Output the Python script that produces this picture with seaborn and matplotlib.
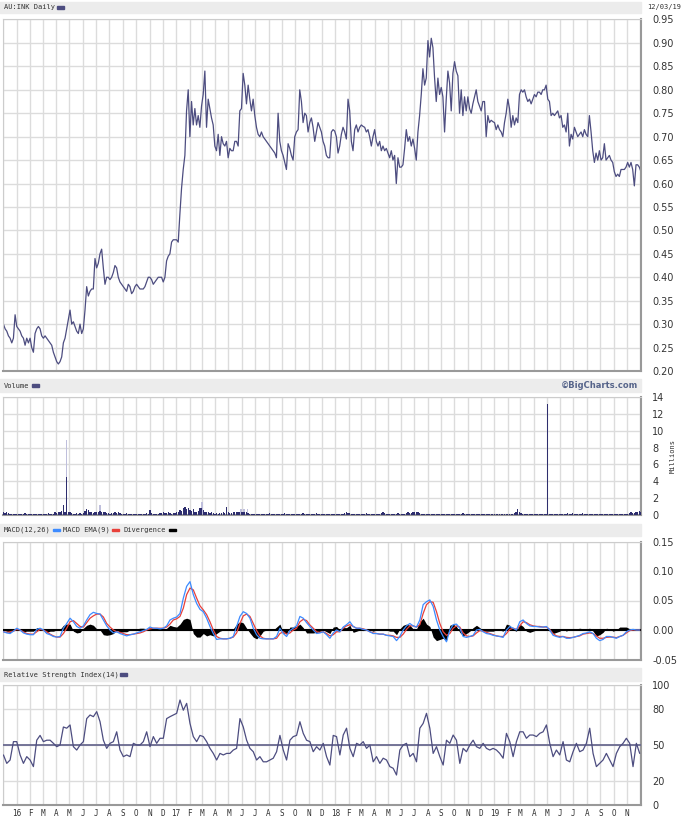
import seaborn as sns
import matplotlib.pyplot as plt
import matplotlib.dates as mdates
from matplotlib.patches import Rectangle
import pandas as pd

# daily close (AU:INK), Dec 2015 -> Dec 2019
price_a = [0.30, 0.29, 0.285, 0.275, 0.27, 0.26, 0.27, 0.32, 0.295, 0.29,
           0.285, 0.275, 0.27, 0.255, 0.27, 0.26, 0.27, 0.25, 0.24, 0.28,
           0.29, 0.295, 0.29, 0.275, 0.27, 0.275, 0.27, 0.265, 0.26, 0.255,
           0.24, 0.23, 0.22, 0.215, 0.22, 0.23, 0.26, 0.27, 0.29, 0.31,
           0.33, 0.30, 0.305, 0.295, 0.285, 0.28, 0.30, 0.28, 0.29, 0.33,
           0.38, 0.36, 0.37, 0.375, 0.375, 0.44, 0.42, 0.43, 0.45, 0.46,
           0.42, 0.385, 0.40, 0.40, 0.395, 0.40, 0.41, 0.425, 0.42, 0.40,
           0.39, 0.385, 0.38, 0.375, 0.37, 0.385, 0.38, 0.365, 0.37, 0.38,
           0.385, 0.38, 0.375, 0.375, 0.375, 0.38, 0.39, 0.40, 0.40, 0.395,
           0.385, 0.39, 0.395, 0.40, 0.40, 0.40, 0.39]
price_b = [0.40, 0.435, 0.445, 0.45, 0.475, 0.48, 0.48, 0.48, 0.475, 0.535,
           0.59, 0.63, 0.66, 0.755, 0.80, 0.70, 0.775, 0.725, 0.76, 0.725,
           0.745, 0.72, 0.765, 0.79, 0.84, 0.72, 0.78, 0.76, 0.74, 0.725,
           0.68, 0.67, 0.705, 0.66, 0.70, 0.685, 0.68, 0.69, 0.655, 0.675,
           0.67, 0.67, 0.69, 0.69, 0.68, 0.755, 0.76, 0.835, 0.81, 0.77,
           0.81, 0.78, 0.755, 0.78, 0.745, 0.72, 0.705, 0.70, 0.71, 0.70,
           0.695, 0.69, 0.685, 0.68, 0.675, 0.67, 0.665, 0.655, 0.75, 0.69,
           0.67, 0.66, 0.645, 0.63, 0.685, 0.675, 0.66, 0.65, 0.70, 0.71,
           0.715, 0.80, 0.775, 0.73, 0.75, 0.745, 0.71, 0.73, 0.74, 0.72,
           0.69, 0.71, 0.73, 0.72, 0.71, 0.69]
price_c = [0.68, 0.66, 0.655, 0.655, 0.71, 0.715, 0.712, 0.70, 0.665, 0.68,
           0.705, 0.72, 0.71, 0.695, 0.78, 0.755, 0.69, 0.67, 0.715, 0.725,
           0.71, 0.72, 0.725, 0.722, 0.72, 0.71, 0.715, 0.70, 0.68, 0.70,
           0.715, 0.69, 0.68, 0.69, 0.67, 0.68, 0.67, 0.675, 0.665, 0.655,
           0.67, 0.65, 0.66, 0.60, 0.655, 0.635, 0.635, 0.64, 0.675, 0.715,
           0.69, 0.70, 0.68, 0.695, 0.675, 0.65, 0.71, 0.745, 0.79, 0.845,
           0.81, 0.825, 0.905, 0.87, 0.91, 0.89, 0.825, 0.775, 0.825, 0.79,
           0.805, 0.785, 0.71, 0.78, 0.84, 0.815, 0.755, 0.835, 0.86, 0.84,
           0.83, 0.75, 0.80, 0.745, 0.785, 0.755, 0.785, 0.76, 0.75, 0.77,
           0.785, 0.80, 0.775, 0.765, 0.755, 0.775]
price_d = [0.775, 0.70, 0.745, 0.73, 0.735, 0.732, 0.73, 0.715, 0.725, 0.715,
           0.71, 0.70, 0.73, 0.75, 0.78, 0.76, 0.72, 0.745, 0.725, 0.74,
           0.73, 0.79, 0.80, 0.795, 0.80, 0.785, 0.775, 0.78, 0.77, 0.78,
           0.79, 0.785, 0.795, 0.795, 0.79, 0.80, 0.80, 0.81, 0.78, 0.775,
           0.745, 0.75, 0.745, 0.75, 0.755, 0.74, 0.745, 0.72, 0.725, 0.71,
           0.75, 0.68, 0.705, 0.695, 0.72, 0.71, 0.70, 0.705, 0.71, 0.70,
           0.715, 0.705, 0.70, 0.745, 0.71, 0.67, 0.645, 0.665, 0.65, 0.67,
           0.65, 0.655, 0.685, 0.65, 0.655, 0.66, 0.65, 0.645, 0.625, 0.615,
           0.62, 0.615, 0.63, 0.63, 0.63, 0.635, 0.645, 0.635, 0.645, 0.63,
           0.595, 0.64, 0.64, 0.635, 0.625]

# volume in millions, same dates as the price
volume = [0.3, 0.2, 0.3, 0.2, 0.1, 0.1, 0.1, 0.1, 0.1, 0.1, 0.1, 0.1, 0.1, 0.2, 0.1, 0.1,
          0.1, 0.1, 0.1, 0.1, 0.1, 0.1, 0.1, 0.1, 0.1, 0.1, 0.1, 0.2, 0.1, 0.1, 0.1, 0.3,
          0.2, 0.4, 0.3, 0.5, 1.2, 0.3, 4.5, 0.4, 0.3, 0.2, 0.1, 0.1, 0.2, 0.1, 0.2, 0.1,
          0.2, 0.5, 0.7, 0.6, 0.4, 0.3, 0.2, 0.3, 0.4, 0.3, 0.5, 0.3, 0.4, 0.3, 0.2, 0.2,
          0.1, 0.2, 0.2, 0.3, 0.2, 0.3, 0.2, 0.1, 0.1, 0.1, 0.2, 0.1, 0.1, 0.1, 0.1, 0.1,
          0.1, 0.1, 0.1, 0.1, 0.1, 0.1, 0.2, 0.1, 0.6, 0.2, 0.1, 0.1, 0.1, 0.1, 0.2, 0.2,
          0.3, 0.2, 0.2, 0.3, 0.2, 0.1, 0.2, 0.2, 0.3, 0.4, 0.6, 0.5, 0.8, 0.9, 0.7, 0.8,
          0.6, 0.5, 0.7, 0.4, 0.3, 0.5, 0.8, 0.8, 0.6, 0.4, 0.3, 0.3, 0.2, 0.3, 0.2, 0.1,
          0.2, 0.1, 0.2, 0.2, 0.3, 0.2, 1.0, 0.3, 0.2, 0.2, 0.3, 0.4, 0.3, 0.3, 0.3, 0.3,
          0.3, 0.3, 0.3, 0.2, 0.1, 0.1, 0.1, 0.1, 0.1, 0.1, 0.1, 0.1, 0.1, 0.1, 0.1, 0.1,
          0.2, 0.1, 0.1, 0.1, 0.1, 0.1, 0.1, 0.1, 0.1, 0.2, 0.1, 0.1, 0.1, 0.1, 0.1, 0.1,
          0.1, 0.1, 0.1, 0.1, 0.2, 0.1, 0.1, 0.1, 0.1, 0.1, 0.1, 0.1, 0.2, 0.1, 0.1, 0.1,
          0.1, 0.1, 0.1, 0.1, 0.1, 0.1, 0.1, 0.1, 0.1, 0.1, 0.1, 0.1, 0.1, 0.2, 0.3, 0.2,
          0.2, 0.1, 0.1, 0.1, 0.1, 0.1, 0.1, 0.1, 0.1, 0.1, 0.2, 0.1, 0.1, 0.1, 0.1, 0.1,
          0.1, 0.1, 0.1, 0.2, 0.3, 0.2, 0.1, 0.1, 0.1, 0.1, 0.1, 0.1, 0.1, 0.2, 0.1, 0.1,
          0.1, 0.1, 0.2, 0.3, 0.2, 0.2, 0.4, 0.3, 0.4, 0.3, 0.2, 0.1, 0.1, 0.1, 0.1, 0.1,
          0.1, 0.1, 0.1, 0.1, 0.1, 0.1, 0.1, 0.1, 0.1, 0.1, 0.1, 0.1, 0.1, 0.1, 0.1, 0.1,
          0.1, 0.1, 0.1, 0.1, 0.2, 0.1, 0.1, 0.1, 0.1, 0.1, 0.1, 0.1, 0.1, 0.1, 0.1, 0.1,
          0.1, 0.1, 0.1, 0.1, 0.1, 0.1, 0.1, 0.1, 0.1, 0.1, 0.1, 0.1, 0.1, 0.1, 0.1, 0.1,
          0.1, 0.1, 0.1, 0.2, 0.3, 0.7, 0.3, 0.2, 0.1, 0.1, 0.1, 0.1, 0.1, 0.1, 0.1, 0.1,
          0.1, 0.1, 0.1, 0.1, 0.1, 0.1, 0.1, 13.2, 0.1, 0.1, 0.1, 0.1, 0.1, 0.1, 0.1, 0.1,
          0.1, 0.1, 0.1, 0.2, 0.1, 0.1, 0.2, 0.1, 0.1, 0.1, 0.1, 0.1, 0.2, 0.1, 0.1, 0.1,
          0.1, 0.1, 0.1, 0.1, 0.1, 0.1, 0.1, 0.1, 0.1, 0.1, 0.1, 0.1, 0.1, 0.1, 0.1, 0.1,
          0.1, 0.1, 0.1, 0.1, 0.1, 0.1, 0.1, 0.1, 0.2, 0.3, 0.2, 0.2, 0.3, 0.4, 0.5, 0.3]
# the paler volume bars
light_dates = ["2016-04-25", "2016-07-10", "2017-03-01", "2017-05-30", "2017-06-06", "2017-06-13"]
light_vol = [8.9, 1.2, 1.5, 0.7, 0.7, 0.7]

# MACD(12,26), EMA(9) and divergence, roughly weekly
macd = [-0.003, -0.005, -0.006, -0.002, 0.003, 0.0, -0.005, -0.007, -0.008, -0.008,
        0.001, 0.003, 0.0, -0.006, -0.008, -0.011, -0.012, -0.011, 0.003, 0.011,
        0.02, 0.014, 0.006, 0.003, 0.007, 0.017, 0.026, 0.03, 0.028, 0.027,
        0.017, 0.007, 0.0, -0.005, -0.003, -0.006, -0.008, -0.01, -0.008, -0.007,
        -0.005, -0.003, -0.001, 0.001, 0.005, 0.003, 0.003, 0.002, 0.003, 0.007,
        0.017, 0.02, 0.022, 0.028, 0.054, 0.074, 0.082, 0.06, 0.045, 0.035,
        0.031, 0.02, 0.006, -0.006, -0.016, -0.015, -0.015, -0.015, -0.014, -0.011,
        0.006, 0.023, 0.031, 0.028, 0.02, 0.003, -0.008, -0.014, -0.015, -0.015,
        -0.015, -0.015, -0.011, 0.003, -0.006, -0.011, -0.001, 0.003, 0.007, 0.023,
        0.02, 0.0125, 0.006, 0.0, -0.006, -0.005, -0.003, -0.008, -0.014, -0.005,
        0.0, -0.003,
        0.005, 0.009, 0.014, 0.006, 0.003, 0.003, 0.001, 0.0, -0.003, -0.006,
        -0.006, -0.007, -0.007, -0.009, -0.01, -0.011, -0.018, -0.011, 0.0, 0.007,
        0.011, 0.007, 0.005, 0.017, 0.043, 0.048, 0.051, 0.04, 0.017, 0.0,
        -0.011, -0.02, 0.0, 0.009, 0.01, 0.003, -0.011, -0.0125, -0.011, -0.009,
        0.0, 0.001, -0.003, -0.006, -0.007, -0.009, -0.01, -0.011, -0.0125, 0.0,
        0.006, 0.003, 0.0, 0.014, 0.017, 0.011, 0.007, 0.006, 0.006, 0.005,
        0.005, 0.006, 0.0, -0.009, -0.011, -0.0125, -0.011, -0.014, -0.014, -0.0125,
        -0.011, -0.009, -0.006, -0.005, -0.003, -0.006, -0.014, -0.018, -0.016, -0.011,
        -0.011, -0.0125, -0.014, -0.011, -0.009, -0.003, 0.0, 0.001, 0.0, 0.0]
signal = [-0.003, -0.004, -0.003, -0.002, 0.001, 0.0, -0.003, -0.006, -0.007, -0.007,
          -0.003, 0.001, 0.0, -0.003, -0.007, -0.01, -0.012, -0.012, -0.006, 0.003,
          0.014, 0.016, 0.011, 0.006, 0.005, 0.0125, 0.02, 0.024, 0.027, 0.027,
          0.022, 0.011, 0.005, 0.0, -0.003, -0.004, -0.006, -0.008, -0.008, -0.007,
          -0.006, -0.005, -0.003, 0.0, 0.002, 0.003, 0.003, 0.003, 0.003, 0.005,
          0.01, 0.017, 0.019, 0.023, 0.037, 0.06, 0.071, 0.068, 0.054, 0.041,
          0.034, 0.026, 0.014, 0.0, -0.011, -0.014, -0.015, -0.015, -0.014, -0.012,
          -0.005, 0.011, 0.024, 0.027, 0.023, 0.011, -0.001, -0.01, -0.014, -0.015,
          -0.015, -0.015, -0.014, -0.006, -0.003, -0.007, -0.005, 0.0, 0.003, 0.014,
          0.018, 0.016, 0.0085, 0.003, -0.003, -0.004, -0.003, -0.006, -0.01, -0.008,
          -0.003, -0.003,
          0.003, 0.007, 0.009, 0.006, 0.003, 0.003, 0.002, 0.0, -0.003, -0.005,
          -0.006, -0.007, -0.007, -0.009, -0.009, -0.01, -0.0125, -0.0125, -0.007, 0.001,
          0.007, 0.007, 0.005, 0.009, 0.028, 0.043, 0.048, 0.047, 0.031, 0.011,
          -0.003, -0.009, -0.006, 0.003, 0.007, 0.005, -0.005, -0.01, -0.011, -0.01,
          -0.005, -0.001, -0.002, -0.004, -0.006, -0.008, -0.01, -0.011, -0.011, -0.006,
          0.001, 0.003, 0.001, 0.007, 0.014, 0.0125, 0.009, 0.007, 0.006, 0.006,
          0.005, 0.005, 0.001, -0.006, -0.01, -0.011, -0.011, -0.0125, -0.013, -0.0125,
          -0.011, -0.01, -0.007, -0.006, -0.005, -0.006, -0.01, -0.014, -0.014, -0.0125,
          -0.012, -0.012, -0.013, -0.011, -0.009, -0.005, -0.001, 0.0, 0.0, 0.0]
divergence = [0.0, -0.002, -0.004, 0.002, 0.003, 0.0, -0.003, -0.002, -0.002, -0.002,
              0.004, 0.003, 0.0, -0.004, -0.002, -0.002, 0.0, 0.001, 0.008, 0.01,
              0.01, -0.002, -0.005, -0.004, 0.003, 0.008, 0.01, 0.008, 0.002, 0.0,
              -0.008, -0.009, -0.008, -0.006, 0.0, -0.004, -0.003, -0.003, 0.0, 0.0,
              0.002, 0.003, 0.003, 0.002, 0.004, 0.0, 0.0, 0.0, 0.0, 0.003,
              0.008, 0.006, 0.005, 0.01, 0.018, 0.02, 0.018, -0.006, -0.012, -0.012,
              -0.006, -0.01, -0.008, -0.01, -0.006, -0.002, 0.0, 0.0, 0.001, 0.002,
              0.01, 0.014, 0.012, 0.003, -0.005, -0.012, -0.015, -0.01, -0.002, 0.0,
              0.0, 0.0, 0.005, 0.01, -0.005, -0.006, 0.005, 0.005, 0.006, 0.01,
              0.004, -0.005, -0.005, -0.005, -0.004, -0.002, 0.0, -0.003, -0.006, 0.005,
              0.006, 0.0,
              0.004, 0.004, 0.008, -0.004, -0.002, 0.0, -0.001, 0.0, 0.0, -0.002,
              0.0, 0.0, 0.0, 0.0, -0.002, -0.002, -0.008, 0.002, 0.008, 0.01,
              0.008, 0.002, 0.002, 0.014, 0.02, 0.01, 0.006, -0.012, -0.018, -0.016,
              -0.014, -0.018, 0.008, 0.01, 0.006, -0.004, -0.01, -0.006, -0.002, 0.004,
              0.008, 0.004, -0.002, -0.002, -0.002, -0.002, 0.0, 0.0, -0.002, 0.01,
              0.008, 0.0, -0.002, 0.01, 0.006, -0.002, -0.004, -0.002, 0.0, 0.0,
              0.0, 0.002, -0.002, -0.006, -0.004, -0.002, 0.002, -0.002, 0.002, 0.002,
              0.002, 0.003, 0.002, 0.002, 0.003, -0.002, -0.01, -0.008, -0.004, 0.003,
              0.002, -0.002, 0.0, 0.005, 0.005, 0.005, 0.002, 0.0, 0.001, 0.0]

# RSI(14), same weekly dates as the MACD
rsi = [41.7, 34.7, 37.5, 52.8, 52.8, 41.7, 34.7, 40.3, 37.5, 32,
       54, 58, 52.8, 54, 54, 51.4, 48.6, 50, 65, 64,
       66.7, 48.6, 45.8, 50, 52.8, 72, 75, 73.6, 77.8, 69.4,
       54, 47.2, 51.4, 52.8, 61, 45.8, 40.3, 41.7, 40.3, 51.4,
       50, 50, 52.8, 61, 48.6, 57, 51.4, 55.6, 55.6, 72,
       73.6, 75, 76.4, 87.5, 79, 84.7, 68, 57, 52.8, 58,
       57, 52.8, 47.2, 43, 37.5, 43, 41.7, 43, 43, 45.8,
       47.2, 72, 65, 54, 47.2, 44.4, 37.5, 40.3, 36, 36,
       37.5, 39, 44.4, 58, 45.8, 37.5, 54, 57, 58, 69.4,
       59.7, 54, 52.8, 44.4, 48.6, 45.8, 51.4, 40.3, 33.3, 58,
       57, 41.7,
       58.3, 64, 47.2, 40.3, 51.4, 50, 52.8, 47.2, 50, 36,
       40.3, 34.7, 39, 37.5, 32, 30.6, 25, 45.8, 50, 51.4,
       40.3, 43, 36, 64, 68, 76.4, 64, 43, 48.6, 40.3,
       33.3, 54, 51.4, 58.3, 54, 34.7, 47.2, 44.4, 50, 54,
       48.6, 47.2, 51.4, 47.2, 45.8, 47.2, 45.8, 43, 39, 59.7,
       52.8, 40.3, 52.8, 61, 61, 55.6, 58.3, 58.3, 57, 59.7,
       61, 66.7, 51.4, 40.3, 45.8, 41.7, 52.8, 37.5, 36, 44.4,
       51.4, 44.4, 45.8, 51.4, 64, 43, 32, 34.7, 37.5, 43,
       37.5, 32, 43, 48.6, 51.4, 55.6, 51.4, 32, 51.4, 43]

price = price_a + price_b + price_c + price_d
dates = pd.date_range("2015-12-02", "2019-12-03", periods=len(price))
wk_dates = pd.date_range("2015-12-02", "2019-11-30", periods=len(macd))
light_dates = pd.to_datetime(light_dates)

sns.set_style("white")
plt.rcParams["font.family"] = ["DejaVu Sans"]

W, H = 681, 819
fig = plt.figure(figsize=(W / 100, H / 100), dpi=100)
start, end = pd.Timestamp("2015-12-01"), pd.Timestamp("2019-12-03")
mono = "DejaVu Sans Mono"
navy = "#4d4d80"
FS = 5


def panel(top, bottom):
    return fig.add_axes([3 / W, 1 - bottom / H, 638 / W, (bottom - top) / H])


def style(ax, ticks, labels, lim):
    ax.set_xlim(start, end)
    ax.set_ylim(lim)
    ax.xaxis.set_major_locator(mdates.MonthLocator())
    ax.set_yticks(ticks)
    ax.set_yticklabels(labels)
    ax.yaxis.tick_right()
    ax.tick_params(axis="y", length=0, pad=8, labelsize=7, colors="#333333")
    ax.tick_params(axis="x", length=0, labelbottom=False)
    ax.grid(True, color="#dcdcdc", lw=1)
    ax.set_axisbelow(True)
    ax.set_xlabel("")
    ax.set_ylabel("")
    for s in ax.spines.values():
        s.set_color("#cccccc")
        s.set_linewidth(0.8)
    for s in ("right", "bottom"):
        ax.spines[s].set_color("#999999")
        ax.spines[s].set_linewidth(1.5)


def header(top, bottom):
    fig.patches.append(Rectangle((0, 1 - bottom / H), 641 / W, (bottom - top) / H,
                                 transform=fig.transFigure, color="#ececec", zorder=0))


def label(x, y, s, dash=None):
    fig.text(x / W, 1 - y / H, s, fontsize=FS, family=mono, color="#333333", va="center")
    if dash:
        dx = len(s) * 0.6 * FS * 100 / 72 + 3
        fig.patches.append(Rectangle(((x + dx) / W, 1 - (y + 1) / H), 7 / W, 2.2 / H,
                                     transform=fig.transFigure, color=dash))


def month_label(v, pos):
    d = mdates.num2date(v).replace(tzinfo=None)
    if d < pd.Timestamp("2016-01-01") or d > pd.Timestamp("2019-11-15"):
        return ""
    return d.strftime("%y") if d.month == 1 else d.strftime("%b")[0]


# price
ax1 = panel(19.5, 371)
sns.lineplot(x=dates, y=price, ax=ax1, color=navy, lw=0.9)
pt = [0.20 + 0.05 * i for i in range(16)]
style(ax1, pt, [f"{v:.2f}" for v in pt], (0.20, 0.95))

# volume
ax2 = panel(397, 515)
ax2.bar(light_dates, light_vol, width=3.2, color="#bfbfdc", lw=0, edgecolor="none", zorder=2)
ax2.bar(dates, volume, width=3.0, color="#2e2e6e", lw=0, edgecolor="none", zorder=3)
style(ax2, range(0, 15, 2), [str(v) for v in range(0, 15, 2)], (0, 14))

# macd
ax3 = panel(541.5, 659.5)
ax3.fill_between(wk_dates, 0, divergence, color="black", lw=0, zorder=3)
ax3.axhline(0, color="black", lw=1.5, zorder=3)
sns.lineplot(x=wk_dates, y=signal, ax=ax3, color="#e8403a", lw=0.9, zorder=4)
sns.lineplot(x=wk_dates, y=macd, ax=ax3, color="#3d8bff", lw=0.9, zorder=5)
style(ax3, [-0.05, 0, 0.05, 0.10, 0.15], ["-0.05", "0.00", "0.05", "0.10", "0.15"], (-0.05, 0.15))

# rsi
ax4 = panel(685, 805)
sns.lineplot(x=wk_dates, y=rsi, ax=ax4, color=navy, lw=0.9, zorder=4)
ax4.axhline(50, color="#6b6b90", lw=1.3, zorder=3)
style(ax4, [0, 20, 50, 80, 100], ["0", "20", "50", "80", "100"], (0, 100))
ax4.tick_params(axis="x", labelbottom=True, labelsize=5.5, pad=3, colors="#333333")
ax4.xaxis.set_major_formatter(plt.FuncFormatter(month_label))
for t in ax4.get_xticklabels():
    t.set_family(mono)

# header bars and captions
header(2, 13)
header(379, 392)
header(524, 536)
header(668, 681)
label(4, 7.5, "AU:INK Daily", navy)
label(4, 385.5, "Volume", navy)
label(4, 530, "MACD(12,26)", "#3d8bff")
label(63, 530, "MACD EMA(9)", "#e8403a")
label(124, 530, "Divergence", "black")
label(4, 674.5, "Relative Strength Index(14)", navy)
fig.text(647 / W, 1 - 7 / H, "12/03/19", fontsize=FS, family=mono, color="#333333", va="center")
fig.text(638 / W, 1 - 385.5 / H, "\u00a9BigCharts.com", fontsize=6, weight="bold",
         color="#56648a", ha="right", va="center")
fig.text(673 / W, 1 - 456 / H, "Millions", fontsize=FS, family=mono, color="#333333",
         rotation=90, ha="center", va="center")

fig.savefig("out.png", dpi=100)
